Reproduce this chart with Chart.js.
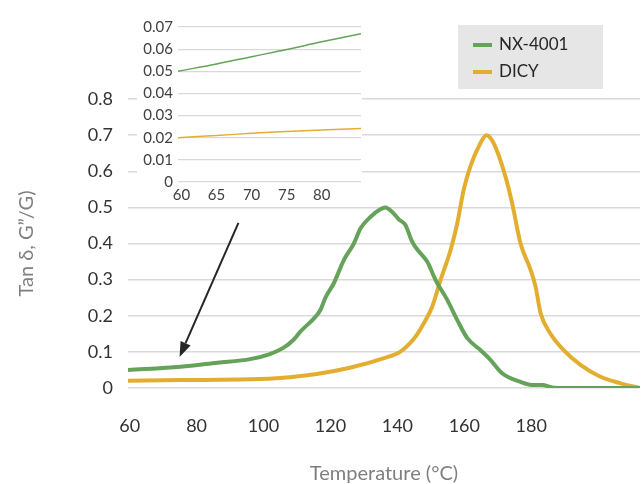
<!DOCTYPE html>
<html>
<head>
<meta charset="utf-8">
<script src="https://cdn.jsdelivr.net/npm/chart.js@4"></script>
<style>
  body { margin: 0; background: #fff; }
  #wrap { position: relative; width: 644px; height: 484px; }
  #inset { position: absolute; left: 137px; top: 0; background: #fff; }
</style>
</head>
<body>
<div id="wrap">
  <canvas id="main" width="644" height="484"></canvas>
  <canvas id="inset" width="225" height="202"></canvas>
</div>
<script>
// main chart data
var nxTemp = [59.5, 75.2, 86.2, 96.0, 101.9, 105.9, 108.9, 111.0, 115.5, 117.0, 118.5, 121.0, 124.0, 127.0, 129.0, 132.0, 134.9, 136.4, 138.4, 140.4, 142.4, 144.4, 145.9, 148.9, 151.4, 154.9, 157.9, 160.9, 164.8, 167.8, 171.3, 176.8, 180.8, 183.3, 186.7, 194.7, 212.5]
var nxTan = [0.050, 0.059, 0.070, 0.080, 0.094, 0.111, 0.133, 0.156, 0.197, 0.216, 0.250, 0.290, 0.354, 0.400, 0.442, 0.474, 0.495, 0.500, 0.488, 0.467, 0.451, 0.405, 0.384, 0.350, 0.299, 0.244, 0.188, 0.138, 0.105, 0.078, 0.041, 0.017, 0.008, 0.008, 0.001, 0, 0]

var dicyTemp = [59.5, 75.2, 96.0, 105.9, 115.9, 125.8, 135.8, 140.8, 143.8, 145.8, 147.9, 150.4, 152.9, 155.9, 157.9, 159.8, 161.8, 164.3, 166.6, 168.8, 172.3, 174.3, 176.8, 179.8, 181.3, 182.8, 185.7, 189.7, 194.7, 200.7, 206.7, 212.5]
var dicyTan = [0.020, 0.022, 0.024, 0.0285, 0.0388, 0.056, 0.082, 0.100, 0.124, 0.147, 0.179, 0.225, 0.299, 0.382, 0.456, 0.548, 0.613, 0.668, 0.700, 0.677, 0.585, 0.511, 0.400, 0.327, 0.280, 0.207, 0.151, 0.105, 0.064, 0.031, 0.013, 0]

var xTicks = [60, 80, 100, 120, 140, 160, 180]
var seriesNames = ["NX-4001", "DICY"]

// zoomed inset (60-85 °C)
var insetTemp = [59.5, 65, 70, 75, 80, 85.6]
var insetNx = [0.0500, 0.0533, 0.0566, 0.0598, 0.0633, 0.0670]
var insetDicy = [0.0200, 0.0210, 0.0220, 0.0228, 0.0235, 0.0242]
var insetTicks = [60, 65, 70, 75, 80]

// arrow from the inset down to the low-temperature part, in data units
var arrowFrom = [92.5, 0.457]
var arrowTo = [74.9, 0.086]

var green = '#65a25a'
var gold = '#e3ad30'
var font = 'Lato'

function pts(xs, ys){
    return xs.map(function(x, i){ return {x: x, y: ys[i]} })
}

var legendBox = {
    id: 'legendBox',
    afterDraw: function(chart){
        var ctx = chart.ctx
        ctx.save()
        ctx.fillStyle = '#e7e6e6'
        ctx.fillRect(458, 25, 145, 64)
        chart.data.datasets.forEach(function(ds, i){
            var y = 45 + i * 27
            ctx.strokeStyle = ds.borderColor
            ctx.lineWidth = 4
            ctx.beginPath()
            ctx.moveTo(473, y)
            ctx.lineTo(492, y)
            ctx.stroke()
            ctx.fillStyle = '#262626'
            ctx.font = '17px ' + font
            ctx.textBaseline = 'middle'
            ctx.fillText(ds.label, 499, y)
        })
        ctx.restore()
    }
}

var arrow = {
    id: 'arrow',
    afterDatasetsDraw: function(chart){
        var xs = chart.scales.x, ys = chart.scales.y
        var x1 = xs.getPixelForValue(arrowFrom[0]), y1 = ys.getPixelForValue(arrowFrom[1])
        var x2 = xs.getPixelForValue(arrowTo[0]), y2 = ys.getPixelForValue(arrowTo[1])
        var a = Math.atan2(y2 - y1, x2 - x1)
        var len = 15, half = 5.5
        var bx = x2 - len * Math.cos(a), by = y2 - len * Math.sin(a)
        var ctx = chart.ctx
        ctx.save()
        ctx.strokeStyle = '#262626'
        ctx.fillStyle = '#262626'
        ctx.lineWidth = 2
        ctx.beginPath()
        ctx.moveTo(x1, y1)
        ctx.lineTo(bx, by)
        ctx.stroke()
        ctx.beginPath()
        ctx.moveTo(x2, y2)
        ctx.lineTo(bx + half * Math.sin(a), by - half * Math.cos(a))
        ctx.lineTo(bx - half * Math.sin(a), by + half * Math.cos(a))
        ctx.closePath()
        ctx.fill()
        ctx.restore()
    }
}

new Chart(document.getElementById('main').getContext('2d'), {
    type: 'line',
    data: {
        datasets: [
            {label: seriesNames[0], data: pts(nxTemp, nxTan), borderColor: green, borderWidth: 4, cubicInterpolationMode: 'monotone'},
            {label: seriesNames[1], data: pts(dicyTemp, dicyTan), borderColor: gold, borderWidth: 4, cubicInterpolationMode: 'monotone'}
        ]
    },
    options: {
        responsive: false,
        animation: false,
        layout: {padding: {top: 99, right: 4, left: 0, bottom: 0}},
        elements: {point: {radius: 0}},
        plugins: {legend: {display: false}, tooltip: {enabled: false}},
        scales: {
            x: {
                type: 'linear', min: 59.5, max: 212.5,
                grid: {display: false},
                border: {display: false},
                afterBuildTicks: function(s){ s.ticks = xTicks.map(function(v){ return {value: v} }) },
                afterFit: function(s){ s.height = 96 },
                ticks: {padding: 19, color: '#333', font: {family: font, size: 18}, maxRotation: 0, autoSkip: false},
                title: {display: true, text: 'Temperature (°C)', color: '#7f7f7f', font: {family: font, size: 20}, padding: {top: 0, bottom: -2}}
            },
            y: {
                min: 0, max: 0.8,
                grid: {color: '#d9d9d9', lineWidth: 1.5, drawTicks: false},
                border: {display: false},
                afterFit: function(s){ s.width = 128 },
                ticks: {stepSize: 0.1, padding: 15, color: '#333', font: {family: font, size: 18},
                    callback: function(v){ return String(Math.round(v * 10) / 10) }},
                title: {display: true, text: 'Tan δ, G”/G)', color: '#7f7f7f', font: {family: font, size: 20}, padding: {top: 15, bottom: 0}}
            }
        }
    },
    plugins: [legendBox, arrow]
})

new Chart(document.getElementById('inset').getContext('2d'), {
    type: 'line',
    data: {
        datasets: [
            {label: seriesNames[0], data: pts(insetTemp, insetNx), borderColor: green, borderWidth: 1.5, tension: 0.4},
            {label: seriesNames[1], data: pts(insetTemp, insetDicy), borderColor: gold, borderWidth: 1.5, tension: 0.4}
        ]
    },
    options: {
        responsive: false,
        animation: false,
        layout: {padding: {top: 27, right: 1, left: 0, bottom: 0}},
        elements: {point: {radius: 0}},
        plugins: {legend: {display: false}, tooltip: {enabled: false}},
        scales: {
            x: {
                type: 'linear', min: 59.5, max: 85.6,
                grid: {display: false},
                border: {display: false},
                afterBuildTicks: function(s){ s.ticks = insetTicks.map(function(v){ return {value: v} }) },
                afterFit: function(s){ s.height = 20 },
                ticks: {padding: -4, color: '#404040', font: {family: font, size: 15}, maxRotation: 0, autoSkip: false}
            },
            y: {
                min: 0, max: 0.07,
                grid: {color: '#d9d9d9', lineWidth: 1.2, drawTicks: false},
                border: {display: false},
                afterFit: function(s){ s.width = 41 },
                ticks: {stepSize: 0.01, padding: 5, color: '#404040', font: {family: font, size: 15},
                    callback: function(v){ return String(Math.round(v * 100) / 100) }}
            }
        }
    }
})
</script>
</body>
</html>
